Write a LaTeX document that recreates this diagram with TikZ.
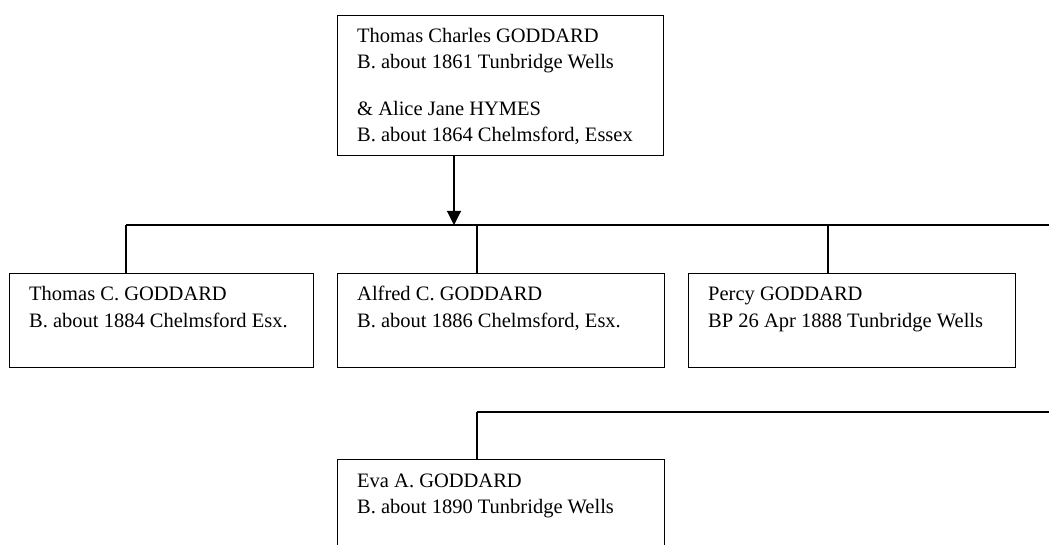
\documentclass[tikz,border=0pt]{standalone}
\usepackage{fontspec}
\setmainfont{Liberation Serif}
\usetikzlibrary{arrows.meta}
\begin{document}
\begin{tikzpicture}[x=1pt,y=-1pt,
  box/.style={draw, line width=1.3pt, rectangle, inner sep=0pt, anchor=north west},
  txt/.style={anchor=base west, inner sep=0pt, font=\fontsize{20.5}{26}\selectfont},
  conn/.style={line width=1.1pt},
  tip/.style={-{Triangle[length=14pt,width=14pt]}}]
\clip (0,0) rectangle (1049,545);
% boxes
\node[box, minimum width=326pt, minimum height=140pt] (parents) at (337,15) {};
\node[box, minimum width=304pt, minimum height=94pt] (c1) at (9,273) {};
\node[box, minimum width=327pt, minimum height=94pt] (c2) at (337,273) {};
\node[box, minimum width=327pt, minimum height=94pt] (c3) at (688,273) {};
\node[box, minimum width=327pt, minimum height=130pt] (c4) at (337,459) {};
% texts
\node[txt] (p1) at (357,42.5) {Thomas Charles GODDARD};
\node[txt] (p2) at (357,68.5) {B. about 1861 Tunbridge Wells};
\node[txt] (p3) at (357,116) {\& Alice Jane HYMES};
\node[txt] (p4) at (357,142) {B. about 1864 Chelmsford, Essex};
\node[txt] (a1) at (29,301) {Thomas C. GODDARD};
\node[txt] (a2) at (29,327) {B. about 1884 Chelmsford Esx.};
\node[txt] (b1) at (357,301) {Alfred C. GODDARD};
\node[txt] (b2) at (357,327) {B. about 1886 Chelmsford, Esx.};
\node[txt] (d1t) at (708,301) {Percy GODDARD};
\node[txt] (d2t) at (708,327) {BP 26 Apr 1888 Tunbridge Wells};
\node[txt] (e1) at (357,487) {Eva A. GODDARD};
\node[txt] (e2) at (357,513) {B. about 1890 Tunbridge Wells};
% connectors
\coordinate (j1) at (454,225);
\coordinate (bL) at (126,225);
\coordinate (bM) at (477,225);
\coordinate (bN) at (828,225);
\coordinate (bR) at (1049,225);
\coordinate (r2L) at (477,412);
\coordinate (r2R) at (1049,412);
\draw[conn,tip] ([xshift=117pt]parents.south west) -- (j1);
\draw[conn] (bL) -- (bR);
\draw[conn] (bL) -- (bL |- c1.north);
\draw[conn] (bM) -- (bM |- c2.north);
\draw[conn] (bN) -- (bN |- c3.north);
\draw[conn] (r2L) -- (r2R);
\draw[conn] (r2L) -- (r2L |- c4.north);
\end{tikzpicture}
\end{document}
